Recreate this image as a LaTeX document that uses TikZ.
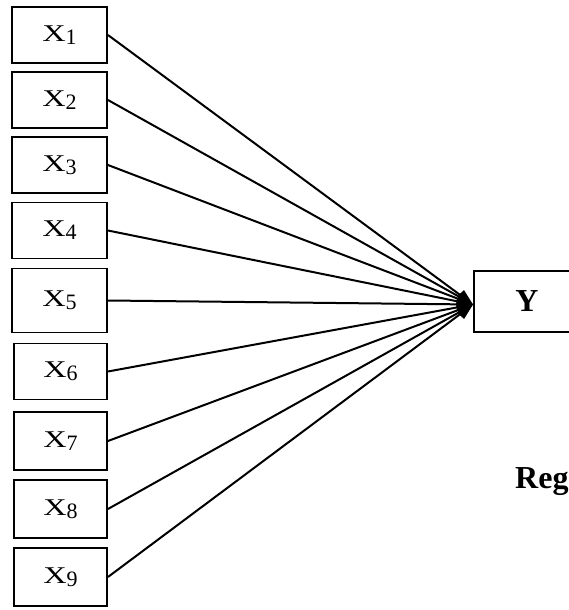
\documentclass[tikz,border=0pt]{standalone}
\usepackage{fontspec}
\setmainfont{Liberation Serif}
\usetikzlibrary{arrows.meta}
\newcommand{\xsub}[1]{\scalebox{1.35}[1]{\fontsize{24}{26}\selectfont X}\raisebox{-3pt}{\fontsize{22}{22}\selectfont #1}}
\begin{document}
\begin{tikzpicture}[x=1pt,y=-1pt,
  xbox/.style={draw, line width=1.9pt, minimum width=95pt, minimum height=56pt, inner sep=0pt},
  ybox/.style={draw, line width=1.9pt, minimum width=106pt, minimum height=61pt, inner sep=0pt, font=\fontsize{32}{34}\selectfont\bfseries},
  arr/.style={line width=2pt, -{Triangle[length=16pt,width=12pt]}}]
\useasboundingbox (0,0) rectangle (569,610);
\clip (0,0) rectangle (569,610);
\node[xbox] (x1) at (59.5,35) {\xsub{1}};
\node[xbox] (x2) at (59.5,100) {\xsub{2}};
\node[xbox] (x3) at (59.5,165) {\xsub{3}};
\node[xbox] (x4) at (59.5,230.5) {\xsub{4}};
\node[xbox, minimum height=64pt] (x5) at (59.5,300.5) {\xsub{5}};
\node[xbox, minimum width=93pt] (x6) at (60.5,371.5) {\xsub{6}};
\node[xbox, minimum width=93pt, minimum height=58pt] (x7) at (60.5,441) {\xsub{7}};
\node[xbox, minimum width=93pt, minimum height=58pt] (x8) at (60.5,509) {\xsub{8}};
\node[xbox, minimum width=93pt, minimum height=58pt] (x9) at (60.5,577) {\xsub{9}};
\node[ybox] (y) at (527,301.5) {Y};
\coordinate (c) at ([yshift=-3pt]y.west);
\foreach \i in {1,...,9} \draw[arr] (x\i.east) -- (c);
\node[anchor=base west, inner sep=0pt, font=\fontsize{32}{34}\selectfont\bfseries] (reg) at (515,488) {Reg};
\end{tikzpicture}
\end{document}
